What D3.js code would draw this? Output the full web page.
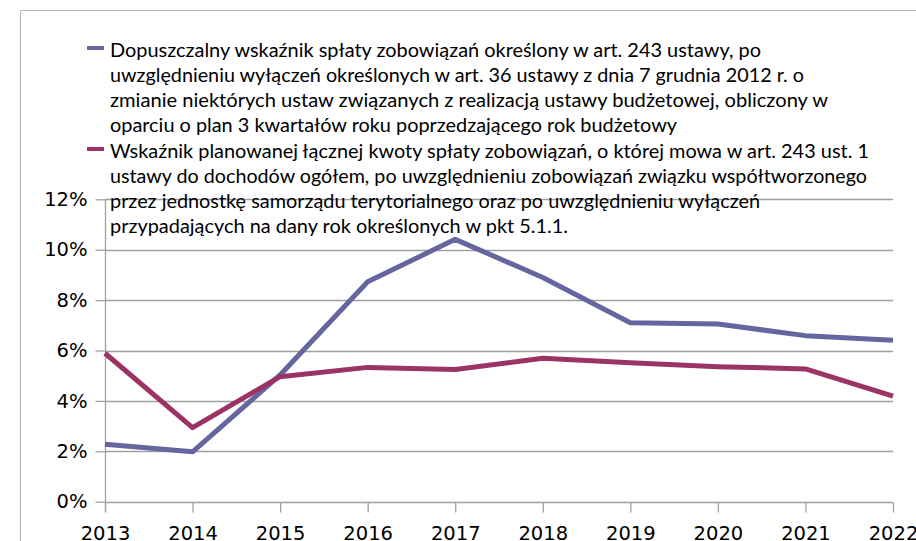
<!DOCTYPE html>
<html>
<head>
<meta charset="utf-8">
<script src="https://cdn.jsdelivr.net/npm/d3@7"></script>
<style>
  body { margin: 0; background: #fff; overflow: hidden; }
  svg { display: block; }
</style>
</head>
<body>
<div id="chart"></div>
<script>
// data (percent)
var years = ["2013", "2014", "2015", "2016", "2017", "2018", "2019", "2020", "2021", "2022"]
var dopuszczalny = [2.28, 1.98, 5.03, 8.73, 10.41, 8.90, 7.10, 7.05, 6.59, 6.41]
var planowany = [5.89, 2.94, 4.96, 5.33, 5.25, 5.69, 5.51, 5.36, 5.27, 4.19]
var yTicks = [0, 2, 4, 6, 8, 10, 12]

var legendLines1 = [
  "Dopuszczalny wskaźnik spłaty zobowiązań określony w art. 243 ustawy, po",
  "uwzględnieniu wyłączeń określonych w art. 36 ustawy z dnia 7 grudnia 2012 r. o",
  "zmianie niektórych ustaw związanych z realizacją ustawy budżetowej, obliczony w",
  "oparciu o plan 3 kwartałów roku poprzedzającego rok budżetowy"
]
var legendLines2 = [
  "Wskaźnik planowanej łącznej kwoty spłaty zobowiązań, o której mowa w art. 243 ust. 1",
  "ustawy do dochodów ogółem, po uwzględnieniu zobowiązań związku współtworzonego",
  "przez jednostkę samorządu terytorialnego oraz po uwzględnieniu wyłączeń",
  "przypadających na dany rok określonych w pkt 5.1.1."
]

// layout
var width = 916, height = 541
var plotLeft = 105, plotRight = 893, plotTop = 199.3, plotBottom = 501.7
var legendX = 110
var legendEnds1 = [761, 804, 828, 677]
var legendEnds2 = [869, 867, 760, 568]
var colors = ["#65659f", "#9b3366"]

var svg = d3.select("#chart")
  .append("svg")
    .attr("width", width)
    .attr("height", height)

// chart border (only top and left visible)
svg.append("path")
  .attr("d", "M20.5," + height + "V10.5H" + width)
  .attr("fill", "none")
  .attr("stroke", "#b4b4b4")
  .attr("stroke-width", 1)

var x = d3.scalePoint()
  .domain(years)
  .range([plotLeft, plotRight])

var y = d3.scaleLinear()
  .domain([0, 12])
  .range([plotBottom, plotTop])

// gridlines
svg.append("g")
  .selectAll("line")
  .data(yTicks)
  .enter()
  .append("line")
    .attr("x1", plotLeft)
    .attr("x2", plotRight)
    .attr("y1", function(d) { return Math.round(y(d)) + 0.5 })
    .attr("y2", function(d) { return Math.round(y(d)) + 0.5 })
    .attr("stroke", "#a0a0a0")
    .attr("stroke-width", 1.3)

// y axis
var yAxis = svg.append("g")
  .attr("transform", "translate(" + (plotLeft + 0.5) + ",0)")
  .call(d3.axisLeft(y).tickValues(yTicks).tickSize(10).tickPadding(8)
    .tickFormat(function(d) { return d + "%" }))
yAxis.select(".domain").remove()
yAxis.append("line")
  .attr("y1", plotTop).attr("y2", plotBottom + 10)
yAxis.selectAll("line")
  .attr("stroke", "#a0a0a0")
  .attr("stroke-width", 1.3)
yAxis.selectAll("text")
  .attr("font-family", "DejaVu Sans")
  .attr("font-size", "19.5px")
  .attr("fill", "#000")

// x axis
var xAxis = svg.append("g")
  .attr("transform", "translate(0," + (Math.round(plotBottom) + 0.5) + ")")
  .call(d3.axisBottom(x).tickSize(10).tickPadding(14))
xAxis.select(".domain").remove()
xAxis.selectAll("line")
  .attr("stroke", "#a0a0a0")
  .attr("stroke-width", 1.3)
xAxis.selectAll("text")
  .attr("font-family", "DejaVu Sans")
  .attr("font-size", "19.5px")
  .attr("fill", "#000")
  .attr("dy", "0.71em")

// lines
var line = d3.line()
  .x(function(d, i) { return x(years[i]) })
  .y(function(d) { return y(d) })

var seriesList = [dopuszczalny, planowany]
svg.selectAll("path.series")
  .data(seriesList)
  .enter()
  .append("path")
    .attr("class", "series")
    .attr("d", line)
    .attr("fill", "none")
    .attr("stroke", function(d, i) { return colors[i] })
    .attr("stroke-width", 5)
    .attr("stroke-linejoin", "round")

// legend
function drawLegendEntry(lines, ends, firstBaseline, color) {
  svg.append("line")
    .attr("x1", 87).attr("x2", 104)
    .attr("y1", firstBaseline - 9).attr("y2", firstBaseline - 9)
    .attr("stroke", color)
    .attr("stroke-width", 4)
  svg.append("g")
    .selectAll("text")
    .data(lines)
    .enter()
    .append("text")
      .attr("x", legendX)
      .attr("y", function(d, i) { return firstBaseline + i * 25 })
      .attr("textLength", function(d, i) { return ends[i] - legendX })
      .attr("lengthAdjust", "spacingAndGlyphs")
      .attr("font-family", "Lato")
      .attr("font-size", "19.5px")
      .attr("fill", "#000")
      .text(function(d) { return d })
}
drawLegendEntry(legendLines1, legendEnds1, 57, colors[0])
drawLegendEntry(legendLines2, legendEnds2, 158, colors[1])
</script>
</body>
</html>
